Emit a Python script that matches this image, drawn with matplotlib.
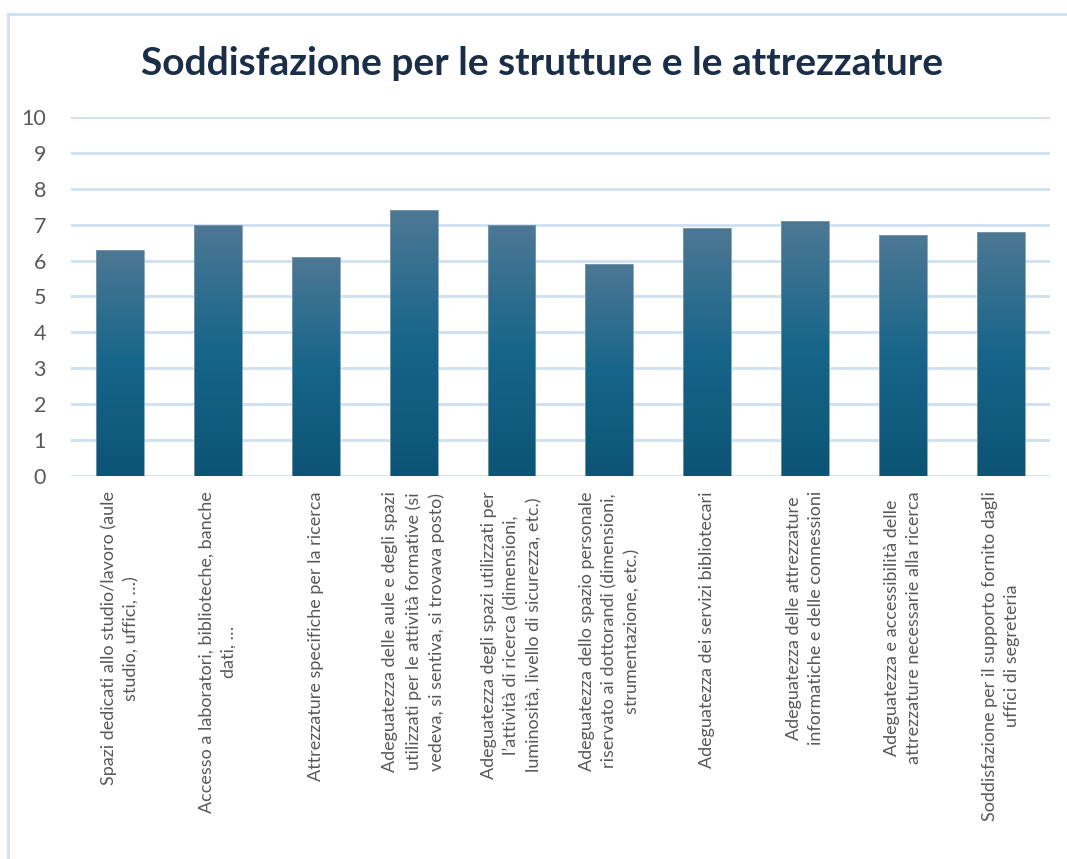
import numpy as np
import matplotlib
matplotlib.use('Agg')
import matplotlib.pyplot as plt
from matplotlib.colors import LinearSegmentedColormap
from matplotlib.lines import Line2D

# dati
categorie = [
    'Spazi dedicati allo studio/lavoro (aule\nstudio, uffici, …)',
    'Accesso a laboratori, biblioteche, banche\ndati, …',
    'Attrezzature specifiche per la ricerca',
    'Adeguatezza delle aule e degli spazi\nutilizzati per le attività formative (si\nvedeva, si sentiva, si trovava posto)',
    'Adeguatezza degli spazi utilizzati per\nl’attività di ricerca (dimensioni,\nluminosità, livello di sicurezza, etc.)',
    'Adeguatezza dello spazio personale\nriservato ai dottorandi (dimensioni,\nstrumentazione, etc.)',
    'Adeguatezza dei servizi bibliotecari',
    'Adeguatezza delle attrezzature\ninformatiche e delle connessioni',
    'Adeguatezza e accessibilità delle\nattrezzature necessarie alla ricerca',
    'Soddisfazione per il supporto fornito dagli\nuffici di segreteria',
]
valori = [6.3, 7.0, 6.1, 7.4, 7.0, 5.9, 6.9, 7.1, 6.7, 6.8]
y_ticks = list(range(0, 11))

titolo = 'Soddisfazione per le strutture e le attrezzature'

plt.rcParams['font.family'] = ['Lato', 'DejaVu Sans']

grid_col = '#cfe0f3'
text_col = '#595959'

fig = plt.figure(figsize=(10.67, 8.59), dpi=100)
ax = fig.add_axes([0.0665, 0.4459, 0.9175, 0.4179])

x = np.arange(len(categorie))
bars = ax.bar(x, valori, width=0.49, color='none', edgecolor='#7f9bb0', linewidth=0.6, zorder=3)

# sfumatura delle barre
cmap = LinearSegmentedColormap.from_list('grad', ['#0c5475', '#17658a', '#4d7894'])
grad = np.linspace(0, 1, 256).reshape(-1, 1)
for b in bars:
    x0, y0 = b.get_x(), b.get_y()
    w, h = b.get_width(), b.get_height()
    im = ax.imshow(grad, cmap=cmap, origin='lower', aspect='auto',
                   extent=[x0, x0 + w, y0, y0 + h], zorder=2)
    im.set_clip_path(b)

ax.set_xlim(-0.5, len(categorie) - 0.5)
ax.set_ylim(0, 10)
ax.set_yticks(y_ticks)
ax.set_yticklabels([str(v) for v in y_ticks], fontsize=15.5, color=text_col)
ax.set_xticks(x)
ax.set_xticklabels(categorie, rotation=90, ha='center', va='top', multialignment='center',
                   fontsize=13, color=text_col, linespacing=1.5)
ax.tick_params(axis='both', length=0)
ax.tick_params(axis='y', pad=18)
ax.tick_params(axis='x', pad=11)
for s in ax.spines.values():
    s.set_visible(False)
ax.yaxis.grid(True, color=grid_col, linewidth=2, zorder=0)
ax.set_axisbelow(True)

fig.text(0.508, 0.9127, titolo, ha='center', va='baseline', fontsize=28,
         fontweight='bold', color='#1a2e48')

# cornice del grafico
fig.add_artist(Line2D([8 / 1067, 8 / 1067], [0, 1 - 14 / 859], color=grid_col, linewidth=2, transform=fig.transFigure))
fig.add_artist(Line2D([8 / 1067, 1], [1 - 14 / 859, 1 - 14 / 859], color=grid_col, linewidth=2, transform=fig.transFigure))

fig.savefig('out.png', dpi=100)
